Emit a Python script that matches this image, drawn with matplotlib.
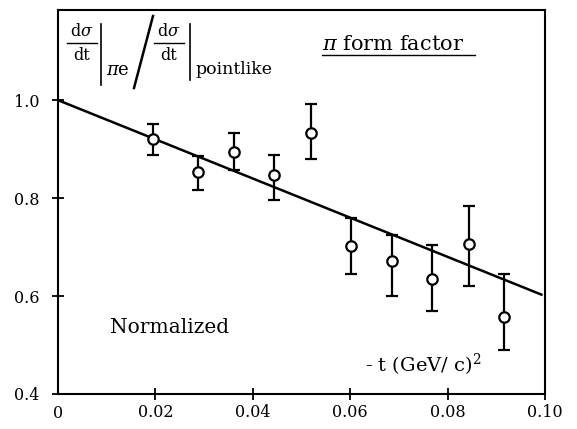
import matplotlib
matplotlib.use("Agg")
import matplotlib.pyplot as plt
import numpy as np

# Measured pion-electron scattering, normalized to pointlike cross section
t_vals = [0.0196, 0.0288, 0.0362, 0.0444, 0.0519, 0.0602, 0.0686, 0.0768, 0.0845, 0.0915]
ratio = [0.920, 0.854, 0.895, 0.847, 0.932, 0.703, 0.671, 0.634, 0.706, 0.558]
err_hi = [0.031, 0.031, 0.037, 0.040, 0.060, 0.056, 0.053, 0.070, 0.078, 0.088]
err_lo = [0.032, 0.038, 0.038, 0.051, 0.053, 0.059, 0.070, 0.064, 0.086, 0.068]

# Straight-line form factor fit
fit_t = [0.0, 0.0995]
fit_ratio = [1.0, 0.602]

x_ticks = [0.02, 0.04, 0.06, 0.08, 0.10]
x_labels = ["0.02", "0.04", "0.06", "0.08", "0.10"]
y_ticks = [0.4, 0.6, 0.8, 1.0]
y_labels = ["0.4", "0.6", "0.8", "1.0"]

plt.rcParams["font.family"] = ["DejaVu Serif"]
plt.rcParams["mathtext.fontset"] = "dejavuserif"

W, H = 577, 429
fig = plt.figure(figsize=(W / 100, H / 100), dpi=100)
ax = fig.add_axes([0.1005, 0.0816, 0.844, 0.895])
ax.set_xlim(0, 0.10)
ax.set_ylim(0.4, 1.184)


def px(x, y):
    """Pixel position (from top-left) to figure fraction."""
    return (x / W, 1 - y / H)


ax.plot(fit_t, fit_ratio, color="black", lw=1.8, solid_capstyle="butt")
ax.errorbar(t_vals, ratio, yerr=[err_lo, err_hi], fmt="o", ms=7.5,
            mfc="white", mec="black", mew=1.6, ecolor="black",
            elinewidth=1.6, capsize=4.5, capthick=1.6, zorder=3)

for s in ax.spines.values():
    s.set_linewidth(1.5)

ax.set_xticks(x_ticks)
ax.set_xticklabels(x_labels, fontsize=11.5)
ax.set_yticks(y_ticks)
ax.set_yticklabels(y_labels, fontsize=11.5)
ax.tick_params(direction="inout", length=9, width=1.3)
ax.tick_params(axis="y", pad=9)
ax.tick_params(axis="x", pad=3)
ax.text(0.0, -0.028, "0", transform=ax.transAxes, ha="center", va="top", fontsize=11.5)

# Y-axis quantity: ratio of differential cross sections, built piece by piece
tf = fig.transFigure
fs = 11.5
for cx in (81.5, 168.5):
    fig.text(*px(cx, 31), r"d$\sigma$", transform=tf, ha="center", va="center", fontsize=fs)
    fig.text(*px(cx, 55), "dt", transform=tf, ha="center", va="center", fontsize=fs)
    fig.add_artist(plt.Line2D([px(cx - 15, 0)[0], px(cx + 15, 0)[0]],
                              [px(0, 43)[1]] * 2, transform=tf, color="black", lw=1.0))
for bx, y0, y1 in ((101, 24, 85), (190, 24, 80)):
    fig.add_artist(plt.Line2D([px(bx, 0)[0]] * 2, [px(0, y0)[1], px(0, y1)[1]],
                              transform=tf, color="black", lw=1.2))
fig.text(*px(106, 70), r"$\pi$e", transform=tf, ha="left", va="center", fontsize=13)
fig.add_artist(plt.Line2D([px(134, 0)[0], px(153, 0)[0]], [px(0, 88)[1], px(0, 16)[1]],
                          transform=tf, color="black", lw=1.8))
fig.text(*px(196, 70), "pointlike", transform=tf, ha="left", va="center", fontsize=12.5)

ax.text(0.542, 0.909, r"$\pi$ form factor", transform=ax.transAxes,
        fontsize=15, ha="left", va="center")
ax.plot([0.542, 0.856], [0.883, 0.883], transform=ax.transAxes, color="black", lw=1.0)

ax.text(0.107, 0.172, "Normalized", transform=ax.transAxes, fontsize=14.5, ha="left", va="center")
ax.text(0.63, 0.0755, r"- t (GeV/ c)$^2$", transform=ax.transAxes, fontsize=14, ha="left", va="center")

fig.savefig("out.png", dpi=100, facecolor="white")
